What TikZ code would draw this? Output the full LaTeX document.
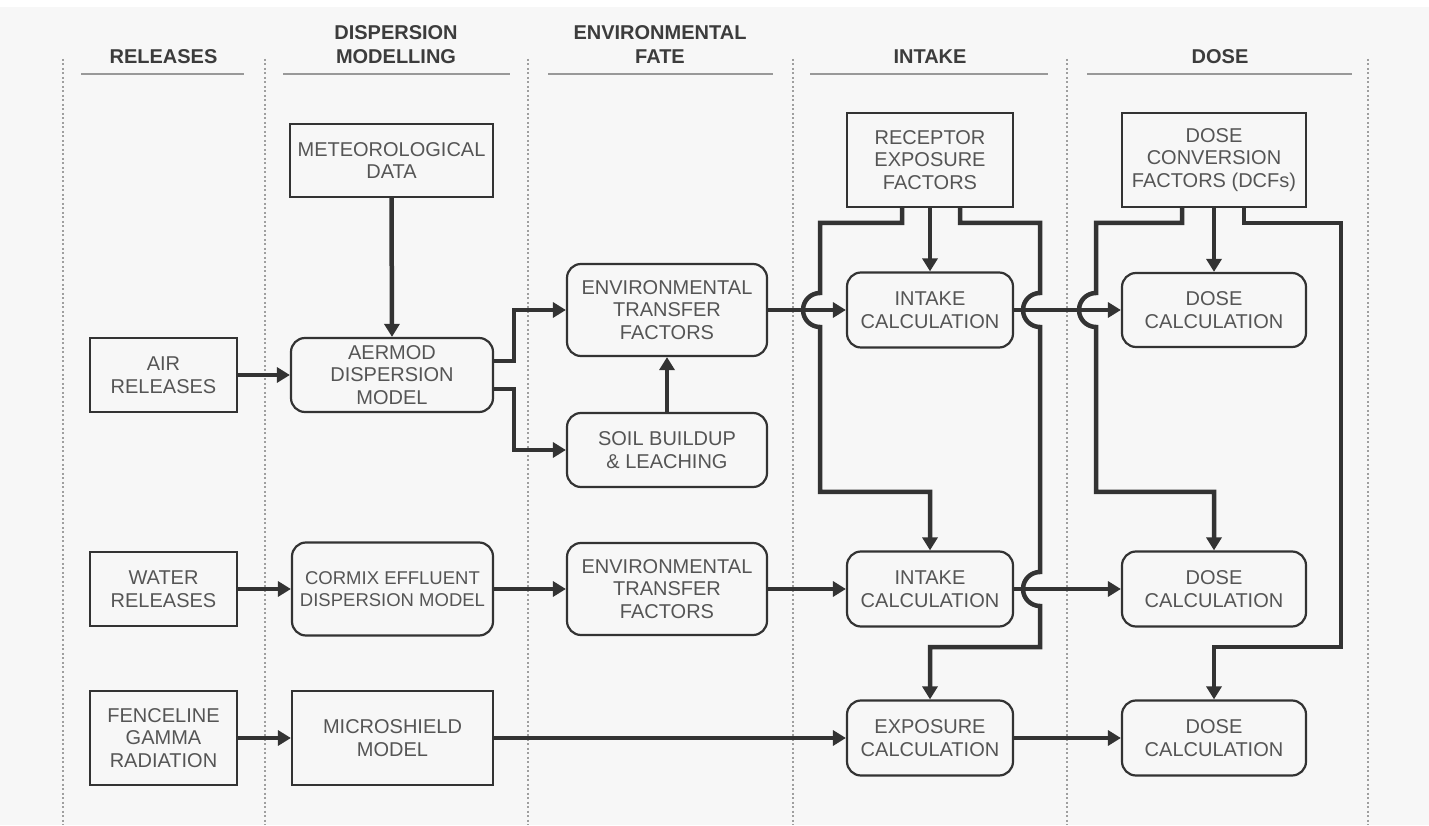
\documentclass[tikz,border=0pt]{standalone}
\usepackage{fontspec}
\setmainfont{Liberation Sans}
\usetikzlibrary{arrows.meta,calc}

\definecolor{linegray}{HTML}{333333}
\definecolor{textgray}{HTML}{555555}
\definecolor{headgray}{HTML}{3C3C3C}
\definecolor{bggray}{HTML}{F7F7F7}

\tikzset{
  box/.style={draw=linegray,line width=2.2pt,text=textgray,align=center,inner sep=0pt,font=\fontsize{20}{22.5}\selectfont},
  rbox/.style={box,rounded corners=14pt},
  conn/.style={draw=linegray,line width=4.5pt,-{Triangle[length=13pt,width=15pt]}},
  head/.style={text=headgray,align=center,font=\fontsize{20}{24}\selectfont\bfseries},
  divider/.style={draw=gray!75,line width=1.3pt,dash pattern=on 2pt off 2.5pt},
  headrule/.style={draw=gray!80,line width=2.2pt}
}

\begin{document}
\begin{tikzpicture}[x=1pt,y=1pt]
        \useasboundingbox (0,0) rectangle (1429,825);
        \fill[bggray] (0,0) rectangle (1429,818);

        \path[divider] (63,766) -- (63,0);
        \path[divider] (265,766) -- (265,0);
        \path[divider] (528,766) -- (528,0);
        \path[divider] (793,766) -- (793,0);
        \path[divider] (1067,766) -- (1067,0);
        \path[divider] (1368,766) -- (1368,0);

        \node[head] (hrel) at (163.5,768) {RELEASES};
        \node[head] (hdisp) at (396,780) {DISPERSION\\MODELLING};
        \node[head] (hfate) at (660,780) {ENVIRONMENTAL\\FATE};
        \node[head] (hintake) at (930,768) {INTAKE};
        \node[head] (hdose) at (1220,768) {DOSE};

        \path[headrule] (81,751) -- (244,751);
        \path[headrule] (283,751) -- (510,751);
        \path[headrule] (548,751) -- (773,751);
        \path[headrule] (810,751) -- (1048,751);
        \path[headrule] (1087,751) -- (1352,751);

        \node[box,minimum width=203pt,minimum height=73pt] (met) at (391.5,664.5) {METEOROLOGICAL\\DATA};
        \node[box,minimum width=147pt,minimum height=74pt] (air) at (163.5,450) {AIR\\RELEASES};
        \node[rbox,minimum width=202pt,minimum height=74pt] (aermod) at (392,450) {AERMOD\\DISPERSION\\MODEL};
        \node[rbox,minimum width=200pt,minimum height=92pt] (envA) at (667,515) {ENVIRONMENTAL\\TRANSFER\\FACTORS};
        \node[rbox,minimum width=200pt,minimum height=74pt] (soil) at (667,375) {SOIL BUILDUP\\\& LEACHING};

        \node[box,minimum width=147pt,minimum height=74pt] (water) at (163.5,236) {WATER\\RELEASES};
        \node[rbox,minimum width=201pt,minimum height=93pt,font=\fontsize{18.5}{22.5}\selectfont] (cormix) at (392.5,236) {CORMIX EFFLUENT\\DISPERSION MODEL};
        \node[rbox,minimum width=200pt,minimum height=92pt] (envB) at (667,236) {ENVIRONMENTAL\\TRANSFER\\FACTORS};

        \node[box,minimum width=147pt,minimum height=94pt] (fence) at (163.5,87) {FENCELINE\\GAMMA\\RADIATION};
        \node[box,minimum width=201pt,minimum height=94pt] (micro) at (392.5,87) {MICROSHIELD\\MODEL};

        \node[box,minimum width=166pt,minimum height=94pt] (rec) at (930,665) {RECEPTOR\\EXPOSURE\\FACTORS};
        \node[box,minimum width=184pt,minimum height=94pt] (dcf) at (1214,665) {DOSE\\CONVERSION\\FACTORS (DCFs)};

        \node[rbox,minimum width=166pt,minimum height=75pt] (intakeA) at (930,515) {INTAKE\\CALCULATION};
        \node[rbox,minimum width=184pt,minimum height=74pt] (doseA) at (1214,515) {DOSE\\CALCULATION};
        \node[rbox,minimum width=166pt,minimum height=75pt] (intakeB) at (930,236) {INTAKE\\CALCULATION};
        \node[rbox,minimum width=184pt,minimum height=75pt] (doseB) at (1214,236) {DOSE\\CALCULATION};
        \node[rbox,minimum width=166pt,minimum height=75pt] (expo) at (930,87) {EXPOSURE\\CALCULATION};
        \node[rbox,minimum width=184pt,minimum height=75pt] (doseC) at (1214,87) {DOSE\\CALCULATION};

        \draw[conn] (met.south) -- (aermod.north);
        \draw[conn] (air.east) -- (aermod.west);
        \draw[conn] ($(aermod.east)+(0,14)$) -- ++(20,0) |- (envA.west);
        \draw[conn] ($(aermod.east)+(0,-14)$) -- ++(20,0) |- (soil.west);
        \draw[conn] (soil.north) -- (envA.south);
        \draw[conn] (water.east) -- (cormix.west);
        \draw[conn] (cormix.east) -- (envB.west);
        \draw[conn] (fence.east) -- (micro.west);
        \draw[conn] (micro.east) -- (expo.west);

        \draw[conn] (envA.east) -- (intakeA.west);
        \draw[conn] (intakeA.east) -- (doseA.west);
        \draw[conn] (envB.east) -- (intakeB.west);
        \draw[conn] (intakeB.east) -- (doseB.west);
        \draw[conn] (expo.east) -- (doseC.west);

        \draw[conn] (rec.south) -- (intakeA.north);
        \draw[conn] ($(rec.south)+(-28,0)$) |- (820,602) -- (820,532)
            arc[start angle=90,end angle=270,radius=17] -- (820,333) -| (intakeB.north);
        \draw[conn] ($(rec.south)+(30,0)$) |- (1040,602) -- (1040,532)
            arc[start angle=90,end angle=270,radius=17] -- (1040,253)
            arc[start angle=90,end angle=270,radius=17] -- (1040,178) -| (expo.north);

        \draw[conn] (dcf.south) -- (doseA.north);
        \draw[conn] ($(dcf.south)+(-32,0)$) |- (1096,602) -- (1096,532)
            arc[start angle=90,end angle=270,radius=17] -- (1096,333) -| (doseB.north);
        \draw[conn] ($(dcf.south)+(30,0)$) |- (1341,602) -- (1341,178) -| (doseC.north);
    \end{tikzpicture}
\end{document}
